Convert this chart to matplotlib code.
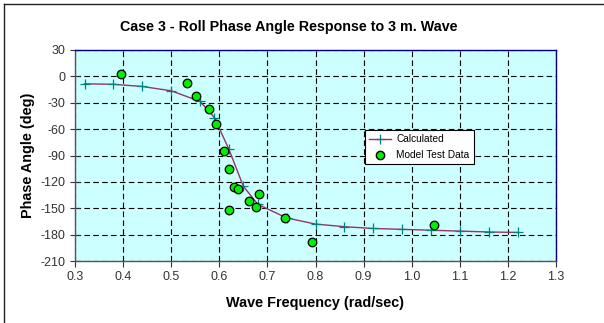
import matplotlib
matplotlib.use("Agg")
import matplotlib.pyplot as plt
from matplotlib.lines import Line2D

plt.rcParams['font.family'] = ['Liberation Sans', 'DejaVu Sans']
plt.rcParams['axes.unicode_minus'] = False

# calculated response (crosses on the smooth line)
calc_freq = [0.32, 0.38, 0.44, 0.50, 0.56, 0.59, 0.62, 0.65, 0.68, 0.74,
             0.80, 0.86, 0.92, 0.98, 1.04, 1.10, 1.16, 1.22]
calc_phase = [-8.5, -9.0, -11.5, -16.4, -28.5, -47.0, -83.0, -125.0, -145.5, -161.0,
              -168.0, -171.0, -173.0, -174.0, -175.0, -176.0, -177.0, -177.5]

# model test data
test_freq = [0.396, 0.533, 0.551, 0.579, 0.593, 0.609, 0.621, 0.631, 0.638,
             0.683, 0.662, 0.676, 0.621, 0.737, 0.793, 1.046]
test_phase = [2.8, -8.1, -22.8, -37.2, -54.1, -85.1, -105.8, -126.2, -128.5,
              -133.8, -141.3, -148.5, -151.9, -161.3, -188.8, -168.5]

x_ticks = [0.3, 0.4, 0.5, 0.6, 0.7, 0.8, 0.9, 1.0, 1.1, 1.2, 1.3]
y_ticks = [30, 0, -30, -60, -90, -120, -150, -180, -210]

fig = plt.figure(figsize=(6.04, 3.23), dpi=100)
ax = fig.add_axes([75/604, 1 - 261/323, (556 - 75)/604, (261 - 50)/323])
ax.set_facecolor('#CCFFFF')

ax.plot(calc_freq, calc_phase, color='#993366', lw=1.0, zorder=3)
ax.plot(calc_freq, calc_phase, ls='none', marker='+', ms=7, mew=0.9,
        color='#008080', zorder=4)
ax.scatter(test_freq, test_phase, s=38, c='#00EE00', edgecolors='black',
           linewidths=0.9, zorder=5)

ax.set_xlim(0.3, 1.3)
ax.set_ylim(-210, 30)
ax.set_xticks(x_ticks)
ax.set_xticklabels(['%.1f' % v for v in x_ticks])
ax.set_yticks(y_ticks)
ax.tick_params(axis='both', labelsize=9, colors='#333333', length=4)
ax.tick_params(axis='y', direction='inout', length=7)
ax.grid(True, color='black', ls=(0, (5, 3)), lw=0.8)
ax.set_axisbelow(True)

ax.spines['top'].set_color('#000080')
ax.spines['right'].set_color('#000080')
ax.spines['left'].set_color('#555555')
ax.spines['bottom'].set_color('#555555')
for s in ax.spines.values():
    s.set_linewidth(1.0)

ax.set_xlabel('Wave Frequency (rad/sec)', fontsize=10.4, fontweight='bold', labelpad=9)
ax.set_ylabel('Phase Angle (deg)', fontsize=10.4, fontweight='bold', labelpad=4)
fig.text(289/604, 1 - 27/323, 'Case 3 - Roll Phase Angle Response to 3 m. Wave',
         ha='center', va='center', fontsize=10.3, fontweight='bold')

handles = [Line2D([], [], color='#993366', lw=1.0, marker='+', ms=7, mew=0.9,
                  markeredgecolor='#008080'),
           Line2D([], [], ls='none', marker='o', ms=6, markerfacecolor='#00EE00',
                  markeredgecolor='black')]
leg = ax.legend(handles, ['Calculated', 'Model Test Data'], fontsize=7.3,
                loc='upper left', bbox_to_anchor=((360 - 75)/481, 1 - (125 - 50)/211),
                fancybox=False, framealpha=1, edgecolor='black',
                borderpad=0.4, handlelength=2.2, handletextpad=0.5,
                labelspacing=0.6)
leg.get_frame().set_linewidth(0.8)

# outer chart border (top and left visible)
fig.add_artist(Line2D([4/604, 4/604], [0, 1 - 4/323], color='#222222', lw=1.0))
fig.add_artist(Line2D([4/604, 1], [1 - 4/323, 1 - 4/323], color='#222222', lw=1.0))

fig.savefig('out.png', dpi=100)
